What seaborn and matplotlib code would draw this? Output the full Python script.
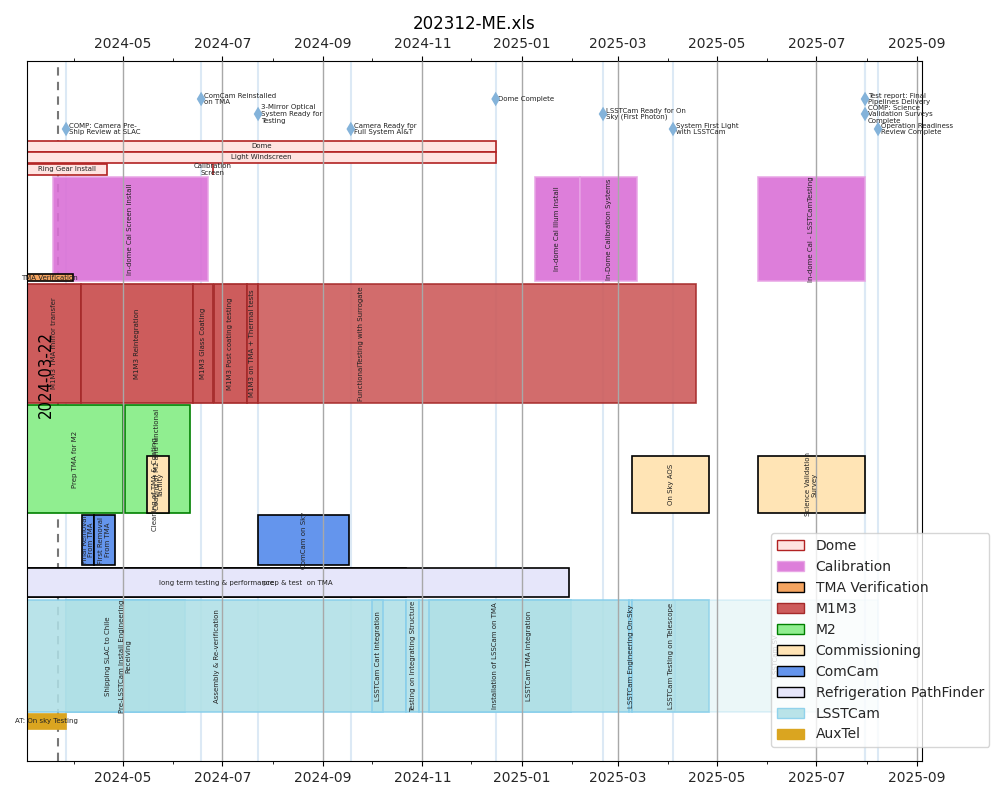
import textwrap
import pandas as pd
import matplotlib
matplotlib.use("Agg")
import matplotlib.pyplot as plt
import matplotlib.dates as mdates
from matplotlib.patches import Patch
import seaborn as sns

# schedule
task_names = [
    "Dome", "Light Windscreen", "Ring Gear Install", "Calibration\nScreen",
    "In-dome Cal Screen Install", "In-dome Cal Illum Install",
    "In-Dome Calibration Systems", "In-dome Cal - LSSTCamTesting",
    "TMA Verification",
    "M1M3 TMA mirror transfer", "M1M3 Reintegration", "M1M3 Glass Coating",
    "M1M3 Post coating testing", "M1M3 on TMA + Thermal tests",
    "FunctionalTesting with Surrogate",
    "Prep TMA for M2", "Coating of M2 and functional",
    "Cleaning of TMA & Coating\nfacility", "On Sky AOS", "Science Validation\nSurvey",
    "Final Removal\nFrom TMA", "First Removal\nFrom TMA", "ComCam on Sky",
    "long term testing & performance", "prep & test  on TMA",
    "Shipping SLAC to Chile", "Pre-LSSTCam Install Engineering\nReceiving",
    "Assembly & Re-verification", "LSSTCam Cart Integration",
    "Testing on Integrating Structure", "Installation of LSSCam on TMA",
    "LSSTCam TMA Integration", "LSSTCam Engineering On-Sky",
    "LSSTCam Testing on Telescope", "LSSTCam SV",
    "AT: On sky Testing",
]
task_groups = (["Dome"] * 4 + ["Calibration"] * 4 + ["TMA Verification"]
               + ["M1M3"] * 6 + ["M2"] * 2 + ["Commissioning"] * 3
               + ["ComCam"] * 3 + ["Refrigeration PathFinder"] * 2
               + ["LSSTCam"] * 10 + ["AuxTel"])
task_start = [
    "2024-03-03", "2024-03-03", "2024-03-03", "2024-06-25",
    "2024-03-19", "2025-01-09", "2025-02-06", "2025-05-26",
    "2024-03-03",
    "2024-03-03", "2024-04-05", "2024-06-13", "2024-06-26", "2024-07-16", "2024-07-23",
    "2024-03-03", "2024-05-02",
    "2024-05-16", "2025-03-10", "2025-05-26",
    "2024-04-06", "2024-04-13", "2024-07-23",
    "2024-03-03", "2024-03-03",
    "2024-03-27", "2024-03-27", "2024-03-03", "2024-10-01", "2024-10-22",
    "2024-10-30", "2024-11-05", "2025-03-08", "2025-03-10", "2025-04-05",
    "2024-03-03",
]
task_end = [
    "2024-12-16", "2024-12-16", "2024-04-21", "2024-06-25",
    "2024-06-22", "2025-02-06", "2025-03-13", "2025-07-31",
    "2024-03-31",
    "2024-04-05", "2024-06-13", "2024-06-25", "2024-07-16", "2024-07-23", "2025-04-18",
    "2024-05-01", "2024-06-11",
    "2024-05-29", "2025-04-26", "2025-07-31",
    "2024-04-13", "2024-04-26", "2024-09-17",
    "2024-10-22", "2025-01-30",
    "2024-05-17", "2024-06-08", "2024-10-22", "2024-10-08", "2024-10-30",
    "2025-01-31", "2025-03-08", "2025-03-10", "2025-04-26", "2025-08-08",
    "2024-03-27",
]

milestone_names = [
    "COMP: Camera Pre-Ship Review at SLAC",
    "ComCam Reinstalled on TMA",
    "3-Mirror Optical System Ready for Testing",
    "Camera Ready for Full System AI&T",
    "Dome Complete",
    "LSSTCam Ready for On Sky (First Photon)",
    "System First Light with LSSTCam",
    "Test report: Final Pipelines Delivery",
    "COMP: Science Validation Surveys Complete",
    "Operation Readiness Review Complete",
]
milestone_dates = [
    "2024-03-27", "2024-06-18", "2024-07-23", "2024-09-18", "2024-12-16",
    "2025-02-20", "2025-04-04", "2025-07-31", "2025-07-31", "2025-08-08",
]

status_date = "2024-03-22"

group_order = ["Dome", "Calibration", "TMA Verification", "M1M3", "M2",
               "Commissioning", "ComCam", "Refrigeration PathFinder", "LSSTCam", "AuxTel"]

# look of each group
face = {"Dome": "mistyrose", "Calibration": "orchid", "TMA Verification": "sandybrown",
        "M1M3": "indianred", "M2": "lightgreen", "Commissioning": "moccasin",
        "ComCam": "cornflowerblue", "Refrigeration PathFinder": "lavender",
        "LSSTCam": "powderblue", "AuxTel": "goldenrod"}
edge = {"Dome": "firebrick", "Calibration": "#e8a4e5", "TMA Verification": "black",
        "M1M3": "brown", "M2": "green", "Commissioning": "black",
        "ComCam": "black", "Refrigeration PathFinder": "black",
        "LSSTCam": "skyblue", "AuxTel": "goldenrod"}
alpha = {"Calibration": 0.9, "LSSTCam": 0.88}
faded = {"LSSTCam SV": 0.25, "FunctionalTesting with Surrogate": 0.9}

# lanes (bottom, height) on a 0..70 axis
lane = {"Calibration": (48.0, 10.4), "TMA Verification": (48.0, 0.7),
        "M1M3": (35.8, 11.9), "M2": (24.8, 10.8), "Commissioning": (24.8, 5.7),
        "ComCam": (19.6, 5.0), "Refrigeration PathFinder": (16.4, 2.9),
        "LSSTCam": (4.9, 11.2), "AuxTel": (3.2, 1.5)}
dome_rows = {"Dome": (60.9, 1.1), "Light Windscreen": (59.8, 1.1),
             "Ring Gear Install": (58.6, 1.1), "Calibration\nScreen": (58.6, 1.1)}
flat_text = {"Dome", "TMA Verification", "Refrigeration PathFinder", "AuxTel"}
label_at = {"FunctionalTesting with Surrogate": "2024-09-24"}
ms_levels = [66.2, 64.7, 63.2]

df = pd.DataFrame({"task": task_names, "group": task_groups,
                   "start": pd.to_datetime(task_start), "end": pd.to_datetime(task_end)})

sns.set_style("ticks")
plt.rcParams["font.family"] = ["DejaVu Sans"]

fig = plt.figure(figsize=(10, 8), dpi=100)
ax = fig.add_axes([0.027, 0.04875, 0.895, 0.875])

for _, r in df.iterrows():
    left = mdates.date2num(r["start"])
    width = mdates.date2num(r["end"]) - left
    if width == 0:
        width = 0.5
    if r["group"] == "Dome":
        bottom, h = dome_rows[r["task"]]
    else:
        bottom, h = lane[r["group"]]
    a = faded.get(r["task"], alpha.get(r["group"], 1.0))
    ax.barh(bottom, width, left=left, height=h, align="edge",
            color=face[r["group"]], edgecolor=edge[r["group"]], lw=1.2, alpha=a, zorder=1)
    tx = mdates.date2num(pd.Timestamp(label_at[r["task"]])) if r["task"] in label_at else left + width / 2
    rot = 0 if r["group"] in flat_text else 90
    ax.text(tx, bottom + h / 2, r["task"], rotation=rot, ha="center", va="center",
            fontsize=5, color="#222222", zorder=3, linespacing=1.1)

# milestones
ms_x = [mdates.date2num(pd.Timestamp(d)) for d in milestone_dates]
ms_y = [ms_levels[(i + 2) % 3] for i in range(len(ms_x))]
for x in ms_x:
    ax.axvline(x, color="#dce9f5", lw=1.5, zorder=0.5)
sns.scatterplot(x=ms_x, y=ms_y, marker="d", s=55, color="#84b3da", edgecolor="none",
                ax=ax, zorder=4, legend=False)
for x, y, name in zip(ms_x, ms_y, milestone_names):
    ax.annotate(textwrap.fill(name, 20), (x, y), xytext=(2, 0), textcoords="offset points",
                fontsize=5, va="center", ha="left", color="#222222", linespacing=1.1)

# status date line
sd = mdates.date2num(pd.Timestamp(status_date))
ax.axvline(sd, color="#777777", lw=1.5, ls=(0, (4, 3)), zorder=0.8)
ax.annotate(status_date, (sd, 38.6), xytext=(-2, 0), textcoords="offset points",
            rotation=90, ha="right", va="center", fontsize=12, fontstretch="condensed",
            color="black")

ax.set_xlim(mdates.date2num(pd.Timestamp("2024-03-03")), mdates.date2num(pd.Timestamp("2025-09-04")))
ax.set_ylim(0, 70)
ax.set_yticks([])
ax.xaxis.set_major_locator(mdates.MonthLocator(bymonth=[1, 3, 5, 7, 9, 11]))
ax.xaxis.set_major_formatter(mdates.DateFormatter("%Y-%m"))
ax.xaxis.set_minor_locator(mdates.MonthLocator())
ax.tick_params(axis="x", which="both", top=True, labeltop=True, labelsize=10, color="black")
ax.set_axisbelow(False)
ax.grid(axis="x", which="major", color="#a8a8a8", lw=1)
for s in ax.spines.values():
    s.set_color("black")
ax.set_title("202312-ME.xls", fontsize=12, color="black")

handles = [Patch(facecolor=face[g], edgecolor=edge[g], alpha=alpha.get(g, 1.0), label=g)
           for g in group_order]
ax.legend(handles=handles, loc="lower right", bbox_to_anchor=(1.083, 0.01), fontsize=10)

fig.savefig("out.png", dpi=100)
